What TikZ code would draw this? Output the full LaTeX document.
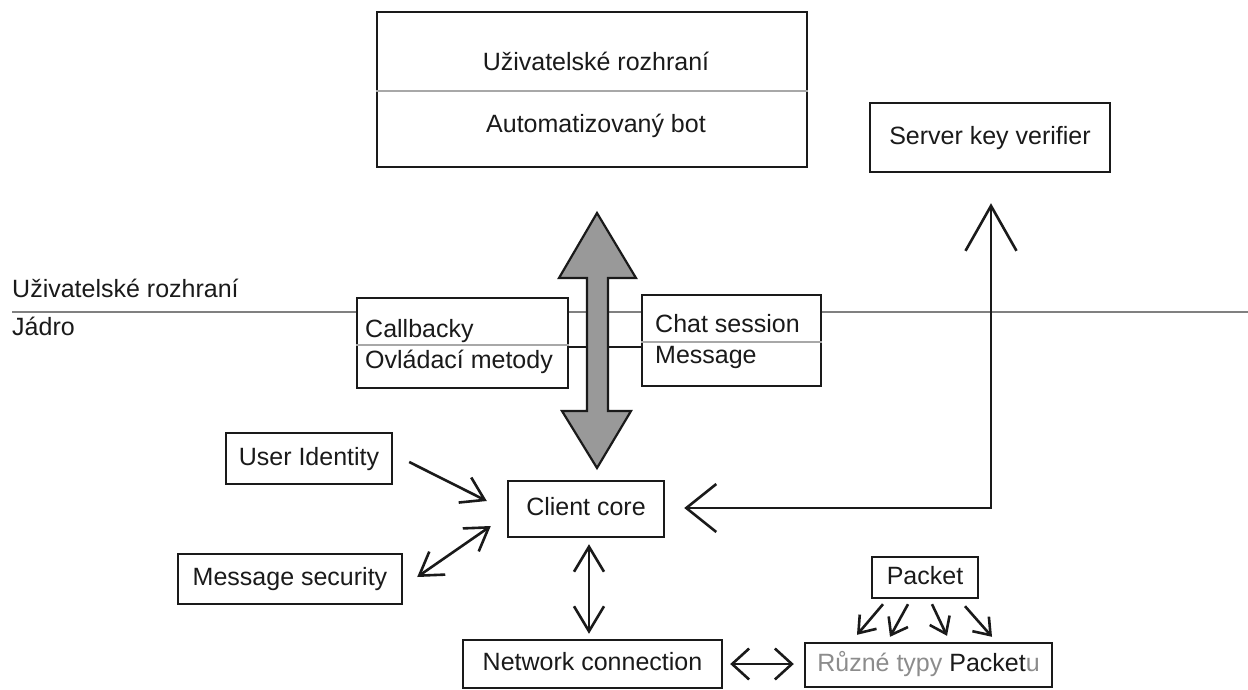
\documentclass[tikz,border=0pt]{standalone}
\usepackage{fontspec}
\setmainfont{Liberation Sans}
\usetikzlibrary{arrows.meta,calc}
\definecolor{sepgray}{HTML}{808080}
\definecolor{divgray}{HTML}{A8A8A8}
\definecolor{txtgray}{HTML}{8C8C8C}
\definecolor{bigfill}{HTML}{999999}
\definecolor{ink}{HTML}{1A1A1A}
\begin{document}
\begin{tikzpicture}[x=1pt,y=-1pt,
  every node/.style={font=\fontsize{25}{30}\selectfont, text=ink},
  box/.style={draw=ink, line width=2.4pt, fill=white, inner sep=0pt, text height=18pt, text depth=5pt},
  lbl/.style={inner sep=0pt},
  sepline/.style={draw=sepgray, line width=2pt},
  divline/.style={draw=divgray, line width=1.6pt},
  conn/.style={draw=ink, line width=2.6pt},
  linkline/.style={draw=ink, line width=2pt},
  bigarrow/.style={draw=ink, line width=2.2pt, fill=bigfill, line join=miter}
]
\useasboundingbox (0,0) rectangle (1248,689);

% layer separator
\coordinate (sepL) at (12,312);
\coordinate (sepR) at (1248,312);
\draw[sepline] (sepL) -- (sepR);
\node[lbl, anchor=base west] (lui) at (12,297) {Uživatelské rozhraní};
\node[lbl, anchor=base west] (ljd) at (12,335) {Jádro};

% top box
\node[box, minimum width=430pt, minimum height=155pt] (top) at (592,89.5) {};
\draw[divline] (top.west |- 0,91) -- (top.east |- 0,91);
\node[lbl, anchor=base] (topA) at (596,70) {Uživatelské rozhraní};
\node[lbl, anchor=base] (topB) at (596,132) {Automatizovaný bot};

% server key verifier
\node[box, minimum width=240pt, minimum height=69pt] (skv) at (990,137.5) {Server key verifier};

% callbacky box
\node[box, minimum width=211pt, minimum height=90pt] (cb) at (462.5,343) {};
\draw[divline] (cb.west |- 0,345) -- (cb.east |- 0,345);
\node[lbl, anchor=base west] (cbA) at (365,337) {Callbacky};
\node[lbl, anchor=base west] (cbB) at (365,368) {Ovládací metody};

% chat box
\node[box, minimum width=179pt, minimum height=91pt] (chat) at (731.5,340.5) {};
\draw[divline] (chat.west |- 0,342) -- (chat.east |- 0,342);
\node[lbl, anchor=base west] (chA) at (655,332) {Chat session};
\node[lbl, anchor=base west] (chB) at (655,363) {Message};

% link between the two interface boxes
\draw[linkline] ($(cb.east)+(0,4)$) -- ($(chat.west)+(0,6.5)$);

% big double arrow
\draw[bigarrow] (597,213) -- (636,278) -- (608,278) -- (608,411) -- (631,411) -- (597,468)
  -- (562,411) -- (587,411) -- (587,278) -- (559,278) -- cycle;

% core nodes
\node[box, minimum width=156pt, minimum height=56pt] (cc) at (586,509) {Client core};
\node[box, minimum width=166pt, minimum height=51pt] (ui) at (309,458.5) {User Identity};
\node[box, minimum width=224pt, minimum height=50pt] (ms) at (290,579) {Message security};
\node[box, minimum width=259pt, minimum height=48pt] (nc) at (592.5,664) {Network connection};
\node[box, minimum width=106pt, minimum height=41pt] (pk) at (925,577.5) {Packet};
\node[box, minimum width=247pt, minimum height=44pt] (rt) at (928.5,665) {{\color{txtgray}Různé typy }Packet{\color{txtgray}u}};

% connectors
\draw[conn, -{Straight Barb[length=22pt,width=28pt]}] ($(ui.east)+(16,3.5)$) -- ($(cc.west)+(-20,-8)$);
\draw[conn, {Straight Barb[length=22pt,width=28pt]}-{Straight Barb[length=22pt,width=28pt]}] ($(ms.east)+(14,-2)$) -- ($(cc.west)+(-16,17)$);
\draw[conn, {Straight Barb[length=25pt,width=30pt]}-{Straight Barb[length=25pt,width=30pt]}] ($(cc.south)+(3,6)$) -- ($(nc.north)+(-3.5,-5)$);
\draw[conn, {Straight Barb[length=17pt,width=31pt]}-{Straight Barb[length=17pt,width=31pt]}] ($(nc.east)+(7,0)$) -- ($(rt.west)+(-10,-1)$);
\draw[conn, {Straight Barb[length=30pt,width=48pt]}-{Straight Barb[length=45pt,width=51pt]}] ($(cc.east)+(19,-1)$) -| ($(skv.south)+(1,30)$);

\draw[conn, -{Straight Barb[length=15pt,width=22pt]}] ($(pk.south)+(-42,5)$) -- ($(rt.north)+(-71.5,-7)$);
\draw[conn, -{Straight Barb[length=15pt,width=22pt]}] ($(pk.south)+(-17,5)$) -- ($(rt.north)+(-38.5,-5)$);
\draw[conn, -{Straight Barb[length=15pt,width=22pt]}] ($(pk.south)+(7,5)$) -- ($(rt.north)+(18.5,-6)$);
\draw[conn, -{Straight Barb[length=15pt,width=22pt]}] ($(pk.south)+(40,7)$) -- ($(rt.north)+(63.5,-5)$);
\end{tikzpicture}
\end{document}
